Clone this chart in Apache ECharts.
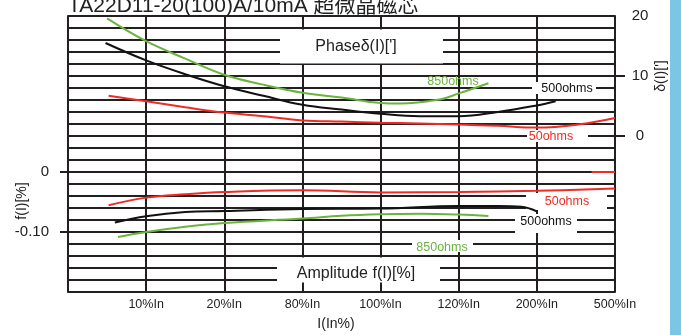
<!DOCTYPE html>
<html>
<head>
<meta charset="utf-8">
<script src="https://cdn.jsdelivr.net/npm/echarts@6/dist/echarts.min.js"></script>
<style>
  html, body { margin: 0; padding: 0; background: #fff; }
  #chart { width: 681px; height: 335px; }
</style>
</head>
<body>
<div id="chart"></div>
<script>
// x 轴刻度（0 为左边框，无标签）
const xLabels = ["", "10%In", "20%In", "80%In", "100%In", "120%In", "200%In", "500%In"];

// 相位 δ(I)[']（右轴）
const phase850X = [0.5, 1.0, 1.5, 2.0, 2.48, 3.0, 3.5, 4.0, 4.25, 4.76, 5.0, 5.38];
const phase850Y = [19.6, 15.8, 12.9, 10.2, 8.6, 7.2, 6.4, 5.5, 5.4, 6.1, 7.1, 8.8];
const phase500X = [0.48, 1.0, 1.5, 2.0, 2.5, 3.0, 3.5, 4.0, 4.5, 5.0, 5.5, 6.0, 6.24];
const phase500Y = [15.5, 12.6, 10.3, 8.3, 6.7, 5.2, 4.4, 3.7, 3.3, 3.3, 4.0, 5.1, 5.8];
const phase50X = [0.52, 1.0, 1.5, 2.0, 2.5, 3.0, 3.5, 4.0, 4.5, 5.0, 5.5, 6.0, 6.55, 7.0];
const phase50Y = [6.7, 5.8, 4.8, 3.9, 3.3, 2.6, 2.4, 2.2, 2.1, 1.9, 1.7, 1.4, 1.95, 3.0];

// 幅值 f(I)[%]（左轴）
const amp50X = [0.52, 1.0, 1.5, 2.0, 3.0, 4.0, 5.0, 6.0, 7.0];
const amp50Y = [-0.0555, -0.0427, -0.037, -0.0333, -0.0305, -0.034, -0.0333, -0.0313, -0.0277];
const amp500X = [0.6, 1.0, 1.5, 2.0, 3.0, 4.0, 5.0, 5.5, 5.8, 6.0];
const amp500Y = [-0.0843, -0.0738, -0.0667, -0.065, -0.0617, -0.061, -0.0567, -0.0567, -0.058, -0.0655];
const amp850X = [0.64, 1.0, 1.5, 2.0, 3.0, 3.5, 4.0, 4.5, 5.0, 5.38];
const amp850Y = [-0.1083, -0.1, -0.0913, -0.085, -0.0777, -0.073, -0.0705, -0.0697, -0.071, -0.0733];
const ampStubX = [6.7, 7.0];
const ampStubY = [0, 0];

const GREEN = "#6bb33f", RED = "#ee2b26", BLACK = "#111111", GRID = "#231f20";
const FONT = "Liberation Sans, Arial, sans-serif";

const zip = (xs, ys) => xs.map((x, i) => [x, ys[i]]);

function line(name, xs, ys, color, yAxisIndex, smooth) {
  return {
    name, type: "line", yAxisIndex, data: zip(xs, ys), smooth: smooth,
    showSymbol: false, symbol: "none", z: 3,
    lineStyle: { color, width: 2 }, itemStyle: { color }
  };
}

function box(x, y, w, h) {
  return { type: "rect", z: 1, silent: true, shape: { x, y, width: w, height: h }, style: { fill: "#fff" } };
}
function label(text, x, y, color, size, rotation) {
  return {
    type: "text", z: 5, silent: true, x, y, rotation: rotation || 0,
    style: { text, fill: color, fontSize: size, fontFamily: FONT, align: "center", verticalAlign: "middle" }
  };
}

const chart = echarts.init(document.getElementById("chart"));
chart.setOption({
  animation: false,
  textStyle: { fontFamily: FONT },
  grid: { left: 68, right: 66, top: 16, bottom: 43, show: false },
  xAxis: {
    type: "value", min: 0, max: 7, interval: 1,
    axisLine: { show: true, lineStyle: { color: GRID, width: 2 } },
    axisTick: { show: true, length: 2, lineStyle: { color: GRID, width: 2 } },
    axisLabel: { color: "#222", fontSize: 12.5, margin: 6, formatter: v => xLabels[Math.round(v)] || "" },
    splitLine: { show: true, lineStyle: { color: GRID, width: 2 } }
  },
  yAxis: [
    {
      type: "value", min: -0.2, max: 0.26, interval: 0.02, position: "left",
      axisLine: { show: true, lineStyle: { color: GRID, width: 2 } },
      axisTick: { show: true, length: 8, customValues: [0, -0.1], lineStyle: { color: GRID, width: 2 } },
      axisLabel: { color: "#222", fontSize: 15, margin: 19, customValues: [0, -0.1],
        formatter: v => (Math.abs(v) < 1e-9 ? "0" : v.toFixed(2)) },
      splitLine: { show: false }
    },
    {
      type: "value", min: -26, max: 20, interval: 2, position: "right",
      axisLine: { show: true, lineStyle: { color: GRID, width: 2 } },
      axisTick: { show: true, length: 10, customValues: [0, 10], lineStyle: { color: GRID, width: 2 } },
      axisLabel: { color: "#222", fontSize: 15, margin: 25, align: "center", customValues: [0, 10, 20] },
      splitLine: { show: false }
    },
    {
      // 只负责画横向网格线
      type: "value", min: -0.2, max: 0.26, interval: 0.02, position: "left",
      axisLine: { show: false }, axisTick: { show: false }, axisLabel: { show: false },
      splitLine: { show: true, lineStyle: { color: GRID, width: 2 } }
    }
  ],
  series: [
    line("phase850", phase850X, phase850Y, GREEN, 1, 0.4),
    line("phase500", phase500X, phase500Y, BLACK, 1, 0.4),
    line("phase50", phase50X, phase50Y, RED, 1, 0.4),
    line("amp50", amp50X, amp50Y, RED, 0, 0.4),
    line("amp500", amp500X, amp500Y, BLACK, 0, 0.4),
    line("amp850", amp850X, amp850Y, GREEN, 0, 0.4),
    line("ampStub", ampStubX, ampStubY, RED, 0, false)
  ],
  graphic: [
    { type: "rect", z: 10, silent: true, shape: { x: 670, y: 0, width: 11, height: 335 }, style: { fill: "#7cc5e5" } },
    {
      type: "text", z: 5, silent: true, x: 68, y: 6,
      style: { text: "TA22D11-20(100)A/10mA 超微晶磁芯", fill: "#222", fontSize: 21,
        fontFamily: "Liberation Sans, Noto Sans CJK SC, sans-serif", align: "left", verticalAlign: "middle" }
    },
    box(280, 29.5, 163, 34),
    label("Phaseδ(I)[']", 356, 46.5, "#222", 16),
    box(277, 257.5, 163, 25),
    label("Amplitude f(I)[%]", 356, 273.5, "#222", 16),
    label("850ohms", 453, 81.5, GREEN, 12.5),
    box(532, 82, 64, 12),
    label("500ohms", 567, 89, BLACK, 12.5),
    box(527, 130, 61, 12),
    label("50ohms", 551, 136.7, RED, 12.5),
    box(526, 193, 81, 17),
    label("50ohms", 567, 201.7, RED, 12.5),
    box(515, 214, 62, 19),
    label("500ohms", 546, 221.7, BLACK, 12.5),
    box(412, 240, 61, 12),
    label("850ohms", 442, 248, GREEN, 12.5),
    label("f(I)[%]", 22, 201, "#222", 14, Math.PI / 2),
    label("δ(I)[']", 661, 76, "#222", 14, Math.PI / 2),
    label("I(In%)", 336, 324, "#222", 14)
  ]
});
</script>
</body>
</html>
